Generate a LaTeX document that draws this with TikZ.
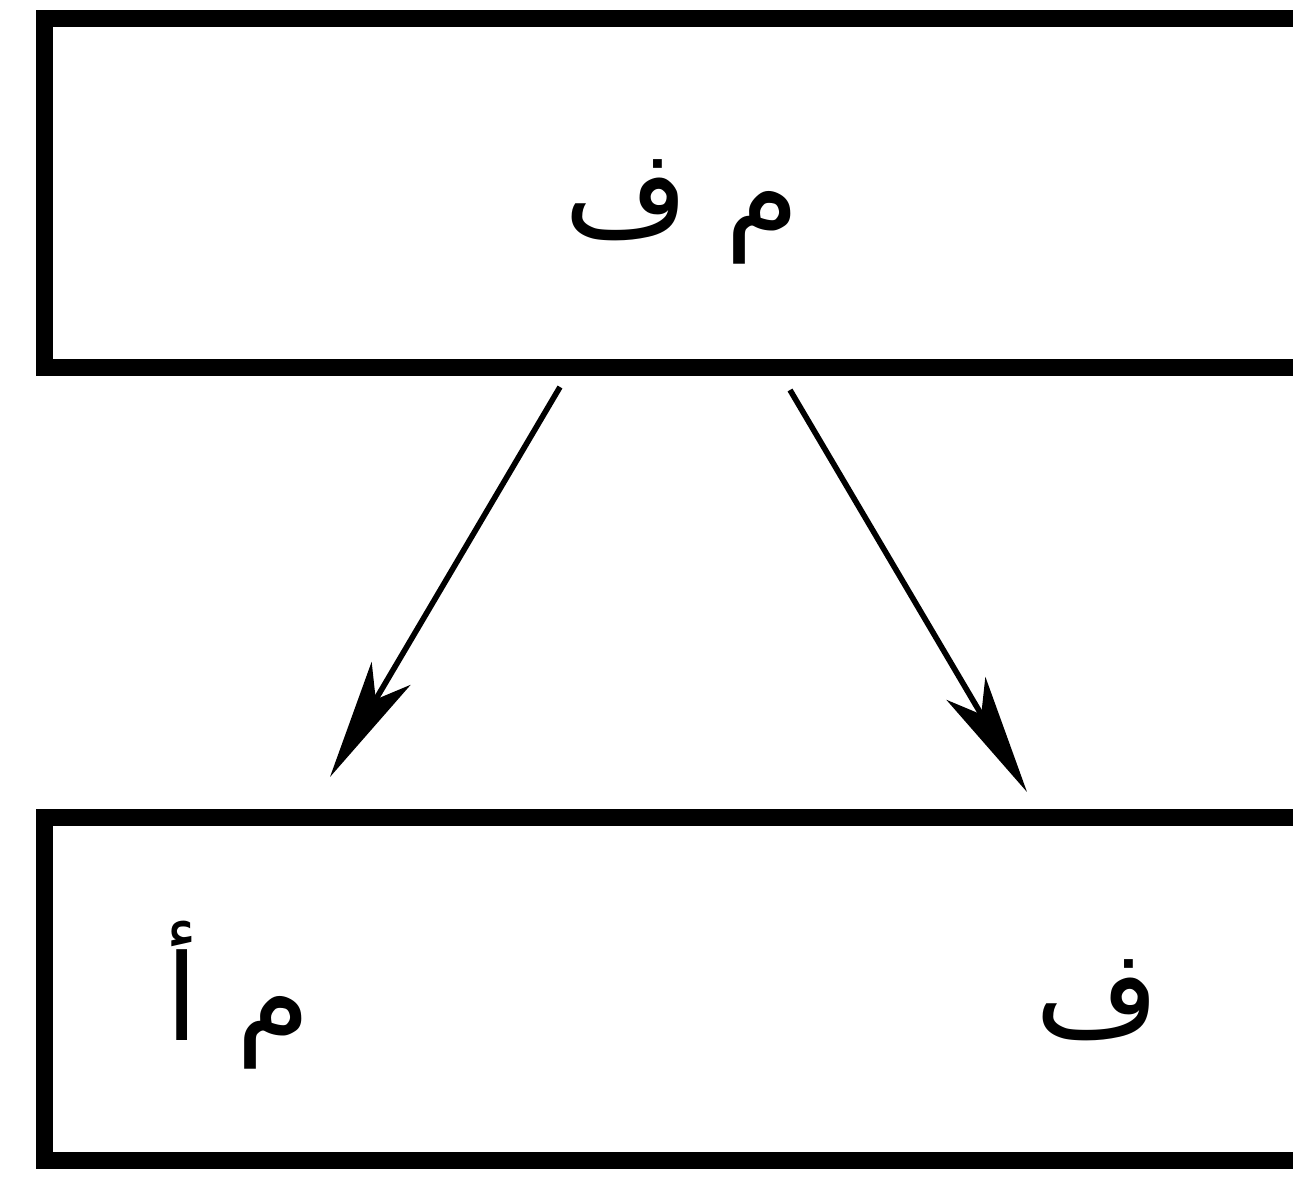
\documentclass[tikz,border=0pt]{standalone}
\usepackage{fontspec}
\newfontfamily\arabicfont[Script=Arabic]{DejaVu Sans}
\TeXXeTstate=1
\usetikzlibrary{arrows.meta}

\begin{document}
\begin{tikzpicture}[x=0.01cm, y=-0.01cm,
    frame/.style={draw, line width=4.8pt, rectangle, minimum width=12.9cm, inner sep=0pt},
    word/.style={font=\arabicfont\fontsize{34}{38}\selectfont, inner sep=0pt},
    link/.style={line width=1.6pt, -{Stealth[length=1.2cm, width=0.45cm, inset=0.3cm]}}]
  \useasboundingbox (0,0) rectangle (1293,1189);
  \clip (0,0) rectangle (1293,1189);
  % Upper box
  \node[frame, minimum height=3.48cm] (upper) at (690,193) {};
  \node[word] (upperword) at (682,212) {\beginR م ف\endR};
  % Lower box
  \node[frame, minimum height=3.42cm] (lower) at (690,989) {};
  \node[word] (lowerleft) at (238,995) {\beginR م أ\endR};
  \node[word] (lowerright) at (1097,1000) {\beginR ف\endR};
  % Arrow ends
  \coordinate (lstart) at (560,387);
  \coordinate (lend) at (330,777);
  \coordinate (rstart) at (790,390);
  \coordinate (rend) at (1027,792);
  \draw[link] (lstart) -- (lend);
  \draw[link] (rstart) -- (rend);
\end{tikzpicture}
\end{document}
